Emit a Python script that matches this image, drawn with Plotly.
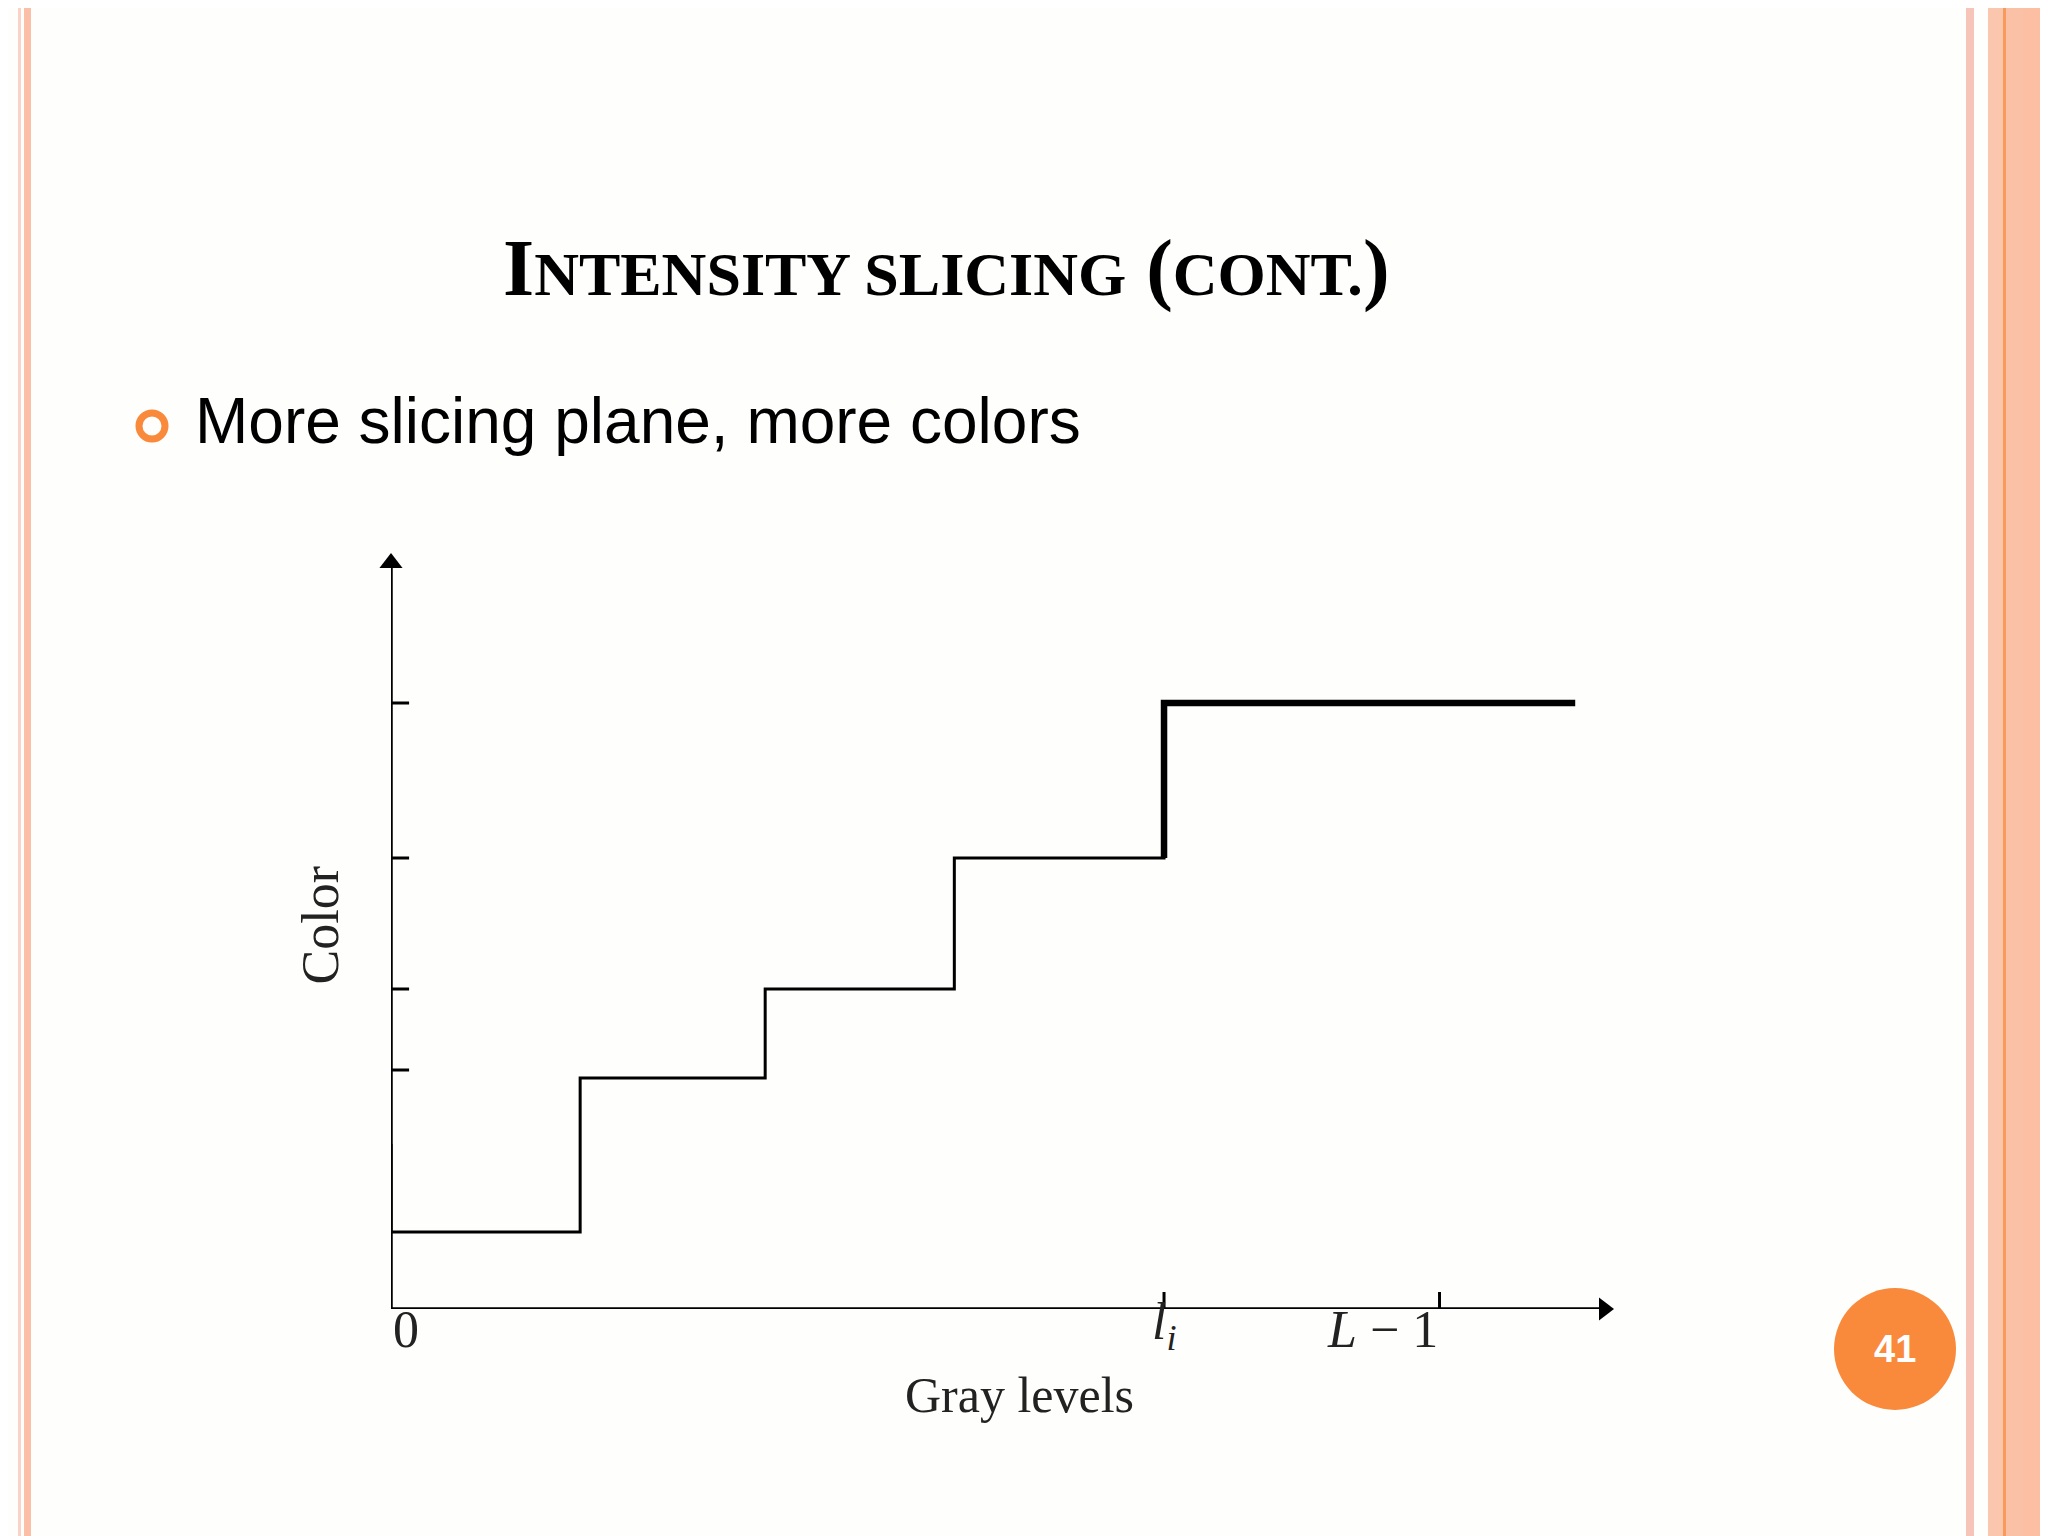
import plotly.graph_objects as go

# staircase transfer function (gray level -> color level)
gray_steps = [0, 46, 91, 137, 188, 288]
color_steps = [7.7, 23.1, 32.0, 45.1, 60.6]
y_ticks = [23.9, 32.0, 45.1, 60.6]
x_tick_vals = [0, 188, 255]
x_tick_text = ["0", "<i>l<sub>i</sub></i>", "<i>L</i> − 1"]
x_end = 295
y_end = 74.6

L, T, W, H = 383, 555, 1213, 746


def px(x, y):
    # page pixel -> paper coords
    return (x - L) / W, 1 - (y - T) / H


fig = go.Figure()

xs, ys = [], []
for i in range(4):
    xs += [gray_steps[i], gray_steps[i + 1], gray_steps[i + 1]]
    ys += [color_steps[i], color_steps[i], color_steps[i + 1]]
fig.add_trace(go.Scatter(x=[0] + xs, y=[16.5] + ys, mode="lines",
                         line=dict(color="black", width=3)))
fig.add_trace(go.Scatter(x=[gray_steps[4], gray_steps[4], gray_steps[5]],
                         y=[color_steps[3], color_steps[4], color_steps[4]],
                         mode="lines", line=dict(color="black", width=6.5)))

# axes
fig.add_trace(go.Scatter(x=[0, 0, x_end], y=[y_end, 0, 0], mode="lines",
                         line=dict(color="black", width=3.5)))
fig.add_trace(go.Scatter(x=[0], y=[y_end], mode="markers",
                         marker=dict(symbol="triangle-up", size=20, color="black")))
fig.add_trace(go.Scatter(x=[x_end], y=[0], mode="markers",
                         marker=dict(symbol="triangle-right", size=20, color="black")))

for t in y_ticks:
    fig.add_trace(go.Scatter(x=[-4.9, 4.4], y=[t, t], mode="lines",
                             line=dict(color="black", width=3)))
for t in x_tick_vals[1:]:
    fig.add_trace(go.Scatter(x=[t, t], y=[-1.6, 1.7], mode="lines",
                             line=dict(color="black", width=3)))

serif = dict(family="Liberation Serif", color="#222")
for v, txt in zip(x_tick_vals, x_tick_text):
    fig.add_annotation(xref="paper", yref="paper", x=v / x_end, y=px(0, 1352)[1], text=txt,
                       showarrow=False, font=dict(size=52, **serif))
gx, gy = px(1011, 1417)
fig.add_annotation(xref="paper", yref="paper", x=gx, y=gy, text="Gray levels", showarrow=False,
                   font=dict(size=50, **serif))
cx, cy = px(281, 918)
fig.add_annotation(xref="paper", yref="paper", x=cx, y=cy, text="Color", showarrow=False,
                   textangle=-90, font=dict(size=52, **serif))

tx, ty = px(938, 261)
fig.add_annotation(xref="paper", yref="paper", x=tx, y=ty,
                   text="<b>I<span style='font-size:62px'>NTENSITY SLICING</span> (<span style='font-size:62px'>CONT.</span>)</b>",
                   showarrow=False, xanchor="center", yanchor="middle",
                   font=dict(family="Liberation Serif", size=80, color="black"))
bx, by = px(185, 413)
fig.add_annotation(xref="paper", yref="paper", x=bx, y=by, text="More slicing plane, more colors",
                   showarrow=False, xanchor="left", yanchor="middle",
                   font=dict(family="Liberation Sans", size=64, color="black"))

c0 = px(144 - 13, 418 + 13)
c1 = px(144 + 13, 418 - 13)
d0 = px(1887 - 61, 1341 + 61)
d1 = px(1887 + 61, 1341 - 61)
shapes = [
    dict(type="circle", xref="paper", yref="paper", x0=c0[0], y0=c0[1], x1=c1[0], y1=c1[1],
         line=dict(color="#F98A3C", width=7)),
    dict(type="circle", xref="paper", yref="paper", x0=d0[0], y0=d0[1], x1=d1[0], y1=d1[1],
         fillcolor="#F98A3C", line=dict(width=0)),
]
for x0, x1, c in [(10, 13, "#FAD3C6"), (16, 23, "#FBBFA8"),
                  (1958, 1966, "#F7C4BA"), (1980, 1995, "#FBC6AE"), (1995, 1998, "#F79A5C"),
                  (1998, 2015, "#FBC1A6"), (2015, 2048, "#FDBFA3")]:
    shapes.append(dict(type="rect", xref="paper", yref="paper", layer="below",
                       x0=px(x0, 0)[0], x1=px(x1, 0)[0], y0=px(0, 1536)[1], y1=px(0, 0)[1],
                       fillcolor=c, line=dict(width=0)))
nx, ny = px(1887, 1341)
fig.add_annotation(xref="paper", yref="paper", x=nx, y=ny, text="<b>41</b>", showarrow=False,
                   xanchor="center", yanchor="middle",
                   font=dict(family="Liberation Sans", size=38, color="white"))

fig.update_layout(
    width=2048, height=1536, showlegend=False, shapes=shapes,
    margin=dict(l=L, r=2048 - L - W, t=T, b=1536 - T - H),
    paper_bgcolor="#FEFEFC", plot_bgcolor="rgba(0,0,0,0)",
    xaxis=dict(range=[0, x_end], visible=False),
    yaxis=dict(range=[0, y_end], visible=False),
)
fig.update_traces(cliponaxis=False)
fig.write_html("out.html")
